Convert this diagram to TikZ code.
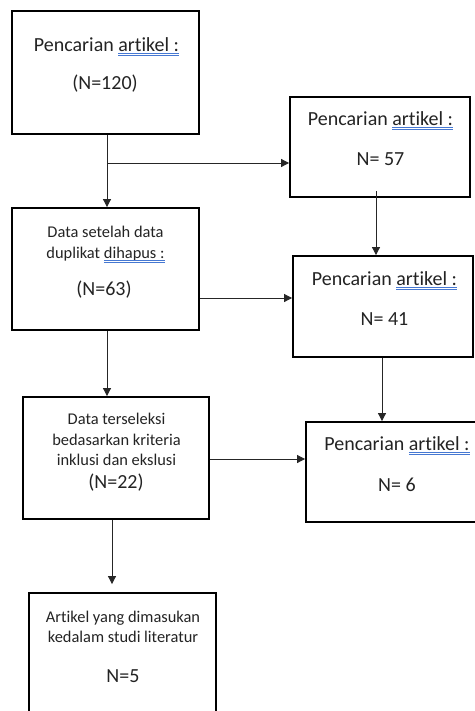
\documentclass[tikz,border=0pt]{standalone}
\usepackage{fontspec}
\setmainfont{Carlito}[Ligatures={NoCommon}]
\usetikzlibrary{arrows.meta}
\definecolor{ulblue}{RGB}{70,120,210}
\definecolor{txt}{RGB}{35,35,35}
\newsavebox\gulbox
\newcommand\gul[1]{\sbox\gulbox{#1}\rlap{\usebox\gulbox}{\color{ulblue}\rlap{\rule[-2.2pt]{\wd\gulbox}{0.5pt}}\rule[-3.6pt]{\wd\gulbox}{0.5pt}}}
\tikzset{
  box/.style 2 args={draw, line width=1.4pt, minimum width=#1*0.75pt, minimum height=#2*0.75pt, inner sep=0pt},
  lbl/.style={anchor=base, inner sep=0pt, text=txt, font=\fontsize{15}{17}\selectfont},
  sml/.style={lbl, font=\fontsize{12.3}{14}\selectfont},
  conn/.style={draw=black!85, line width=0.7pt},
  arr/.style={conn, -{Triangle[length=6pt,width=6pt]}},
}
\begin{document}
\begin{tikzpicture}[x=0.75pt,y=-0.75pt]
\useasboundingbox (0,0) rectangle (475,711);
\clip (0,0) rectangle (475,711);
% boxes
\node[box={187}{123}] (b1) at (105.5,72.5) {};
\node[box={180}{100}] (b57) at (380,147) {};
\node[box={187}{122}] (b2) at (105.5,269) {};
\node[box={180}{101}] (b41) at (383,306.5) {};
\node[box={186}{122}] (b3) at (116,458) {};
\node[box={182}{100}] (b6) at (397,472) {};
\node[box={187}{137}] (b5) at (122.5,661.5) {};
% texts
\node[lbl] (t1a) at (106.5,51) {Pencarian \gul{artikel :}};
\node[lbl] (t1b) at (105,89) {(N=120)};
\node[lbl] (t2a) at (380.5,125) {Pencarian \gul{artikel :}};
\node[lbl] (t2b) at (380.5,165) {N= 57};
\node[sml] (t3a) at (105.5,237) {Data setelah data};
\node[sml] (t3b) at (105.5,258) {duplikat \gul{dihapus :}};
\node[lbl] (t3c) at (104,295) {(N=63)};
\node[lbl] (t4a) at (384.5,285) {Pencarian \gul{artikel :}};
\node[lbl] (t4b) at (384.5,325) {N= 41};
\node[sml] (t5a) at (116.5,424) {Data terseleksi};
\node[sml] (t5b) at (116.5,445) {bedasarkan kriteria};
\node[sml] (t5c) at (116.5,465) {inklusi dan ekslusi};
\node[lbl] (t5d) at (116,488) {(N=22)};
\node[lbl] (t6a) at (397,450) {Pencarian \gul{artikel :}};
\node[lbl] (t6b) at (397,491) {N= 6};
\node[sml] (t7a) at (123,622) {Artikel yang dimasukan};
\node[sml] (t7b) at (123,642) {kedalam studi literatur};
\node[lbl] (t7c) at (123,682) {N=5};
% connectors
\coordinate (j1) at (107,163);
\draw[arr] (b1.south -| j1) -- (b2.north -| j1);
\draw[arr] (j1) -- (j1 -| b57.west);
\draw[arr, shorten <=-5pt] ([xshift=-3pt]b57.south) -- ([xshift=-3pt]b57.south |- b41.north);
\coordinate (j2) at (199,298);
\draw[arr] (b2.east |- j2) -- (b41.west |- j2);
\coordinate (j3) at (107,330);
\draw[arr] (b2.south -| j3) -- (b3.north -| j3);
\coordinate (j4) at (382,357);
\draw[arr] (b41.south -| j4) -- (b6.north -| j4);
\coordinate (j5) at (209,459);
\draw[arr] (b3.east |- j5) -- (b6.west |- j5);
\coordinate (j6) at (112,519);
\draw[arr, shorten >=6pt] (b3.south -| j6) -- (b5.north -| j6);
\end{tikzpicture}
\end{document}
